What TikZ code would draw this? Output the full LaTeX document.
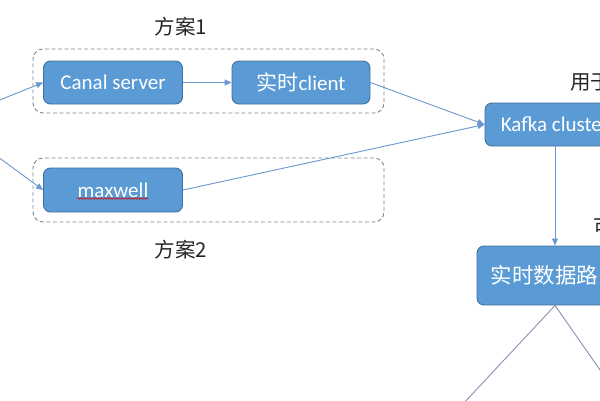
\documentclass[tikz,border=0pt]{standalone}
\usepackage{fontspec}
\setmainfont{Carlito}
\newfontfamily\cjk{Noto Sans CJK SC}
\usetikzlibrary{arrows.meta,decorations.pathmorphing}
\definecolor{boxfill}{HTML}{5B9BD5}
\definecolor{boxedge}{HTML}{41719C}
\definecolor{grpedge}{HTML}{7A8799}
\definecolor{linec}{HTML}{6A98CE}
\definecolor{linec2}{HTML}{8294AE}
\begin{document}
\begin{tikzpicture}[x=1pt,y=-1pt,
  box/.style={draw=boxedge,fill=boxfill,rounded corners=7pt,line width=0.9pt,text=white,
    font=\fontsize{21}{25}\selectfont,inner sep=0pt,minimum width=139pt,minimum height=43pt},
  grp/.style={draw=grpedge,dash pattern=on 4pt off 2.5pt,rounded corners=10pt,line width=0.9pt,
    inner sep=0pt,minimum width=351pt,minimum height=64pt},
  conn/.style={draw=linec,line width=0.9pt,-{Triangle[length=7pt,width=6pt]}},
  plainc/.style={draw=linec2,line width=0.9pt},
  title/.style={font=\cjk\fontsize{20.5}{24}\selectfont,text=black!85,inner sep=0pt}]
\useasboundingbox (0,0) rectangle (600,400);
\fill[white] (0,0) rectangle (600,400);
\clip (0,0) rectangle (600,400);
% groups
\node[grp] (g1) at (208.5,81) {};
\node[grp] (g2) at (208.5,190) {};
% titles
\node[title] (t1) at (181,27) {方案1};
\node[title] (t2) at (181,250) {方案2};
\node[title,anchor=west] (t3) at (570,82) {用于};
\node[title,anchor=west] (t4) at (593,227) {可};
% boxes
\node[box] (canal) at (113,82.5) {Canal server};
\node[box,minimum width=138pt] (client) at (301,82.5) {{\cjk 实时}client};
\node[box,minimum height=44pt] (maxwell) at (113,190) {maxwell};
\node[box,minimum width=140pt] (kafka) at (555,124.5) {Kafka cluster};
\node[box,minimum width=156pt,minimum height=59pt,font=\cjk\fontsize{21.5}{26}\selectfont] (route) at (555,275.5) {实时数据路由};
% spell-check underline
\draw[red!85!black,line width=0.6pt,decorate,decoration={snake,amplitude=0.8pt,segment length=3pt}] (77,198.5) -- (148,198.5);
% free ends
\coordinate (in1) at (-10,104);
\coordinate (in2) at (-10,151);
\coordinate (outl) at (448,420);
\coordinate (outr) at (635,420);
% connectors
\draw[conn] (in1) -- (canal.west);
\draw[conn] (in2) -- (maxwell.west);
\draw[conn] (canal.east) -- (client.west);
\draw[conn] (client.east) -- (kafka.west);
\draw[conn] (maxwell.east) -- (kafka.west);
\draw[conn] (kafka.south) -- (route.north);
\draw[plainc] (route.south) -- (outl);
\draw[plainc] (route.south) -- (outr);
\end{tikzpicture}
\end{document}
